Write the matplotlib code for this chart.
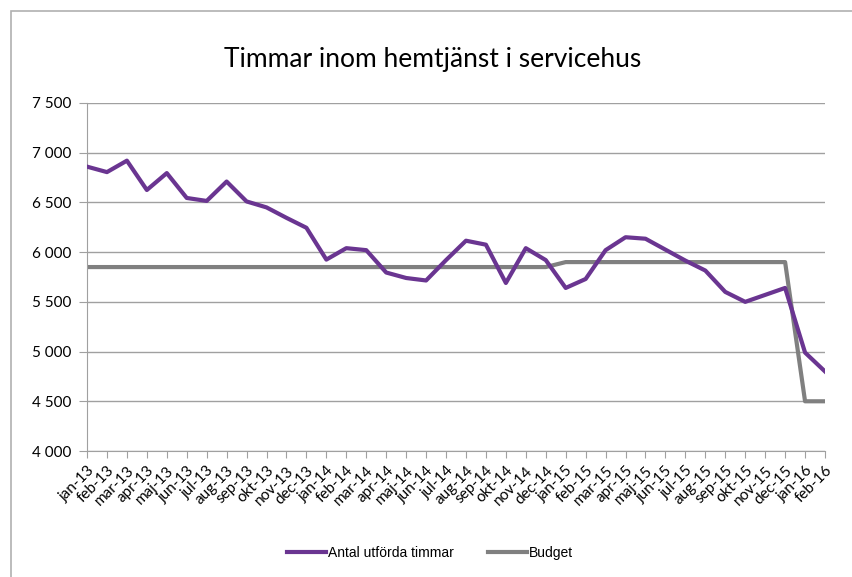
import matplotlib
matplotlib.use("Agg")
import matplotlib.pyplot as plt
from matplotlib.patches import Rectangle

months = ["jan-13", "feb-13", "mar-13", "apr-13", "maj-13", "jun-13", "jul-13", "aug-13",
          "sep-13", "okt-13", "nov-13", "dec-13", "jan-14", "feb-14", "mar-14", "apr-14",
          "maj-14", "jun-14", "jul-14", "aug-14", "sep-14", "okt-14", "nov-14", "dec-14",
          "jan-15", "feb-15", "mar-15", "apr-15", "maj-15", "jun-15", "jul-15", "aug-15",
          "sep-15", "okt-15", "nov-15", "dec-15", "jan-16", "feb-16"]

utforda = [6860, 6805, 6920, 6625, 6795, 6545, 6515, 6710,
           6510, 6450, 6345, 6245, 5925, 6040, 6020, 5795,
           5740, 5715, 5920, 6115, 6075, 5690, 6040, 5920,
           5640, 5730, 6020, 6150, 6135, 6025, 5915, 5815,
           5600, 5500, 5570, 5640, 4990, 4800]

budget = [5850] * 24 + [5900] * 12 + [4500, 4500]

yticks = [4000, 4500, 5000, 5500, 6000, 6500, 7000, 7500]
ytick_labels = ["4 000", "4 500", "5 000", "5 500", "6 000", "6 500", "7 000", "7 500"]

fig = plt.figure(figsize=(8.52, 5.77), dpi=100)
ax = fig.add_axes([87 / 852, 1 - 451 / 577, (825 - 87) / 852, (451 - 103) / 577])

x = list(range(len(months)))
ax.plot(x, utforda, color="#6a3591", lw=3, label="Antal utförda timmar", zorder=3)
ax.plot(x, budget, color="#808080", lw=3, label="Budget", zorder=2)

ax.set_xlim(0, len(months) - 1)
ax.set_ylim(4000, 7500)
ax.set_yticks(yticks)
ax.set_yticklabels(ytick_labels, fontsize=11, family="Lato")
ax.set_xticks(x)
ax.set_xticklabels(months, rotation=45, ha="right", rotation_mode="anchor",
                   fontsize=11, family="Lato")
ax.tick_params(axis="x", length=5, color="#a0a0a0", pad=4)
ax.tick_params(axis="y", length=6, color="#a0a0a0", pad=5)
ax.grid(axis="y", color="#a0a0a0", lw=1)
ax.set_axisbelow(True)
for s in ["top", "right"]:
    ax.spines[s].set_visible(False)
for s in ["left", "bottom"]:
    ax.spines[s].set_color("#a0a0a0")

fig.text(433 / 852, 1 - 60 / 577, "Timmar inom hemtjänst i servicehus",
         ha="center", va="center", fontsize=19, family="Lato")

fig.legend(loc="center", bbox_to_anchor=(430 / 852, 1 - 553 / 577), ncol=2, frameon=False,
           prop={"family": "Liberation Sans", "size": 10}, handlelength=2.8,
           handletextpad=0.1, columnspacing=2.5)

fig.patches.append(Rectangle((11 / 852, -0.1), 1.2, 1.1 - 11 / 577, transform=fig.transFigure,
                             fill=False, edgecolor="#b0b0b0", lw=1.2))

fig.savefig("out.png", dpi=100)
